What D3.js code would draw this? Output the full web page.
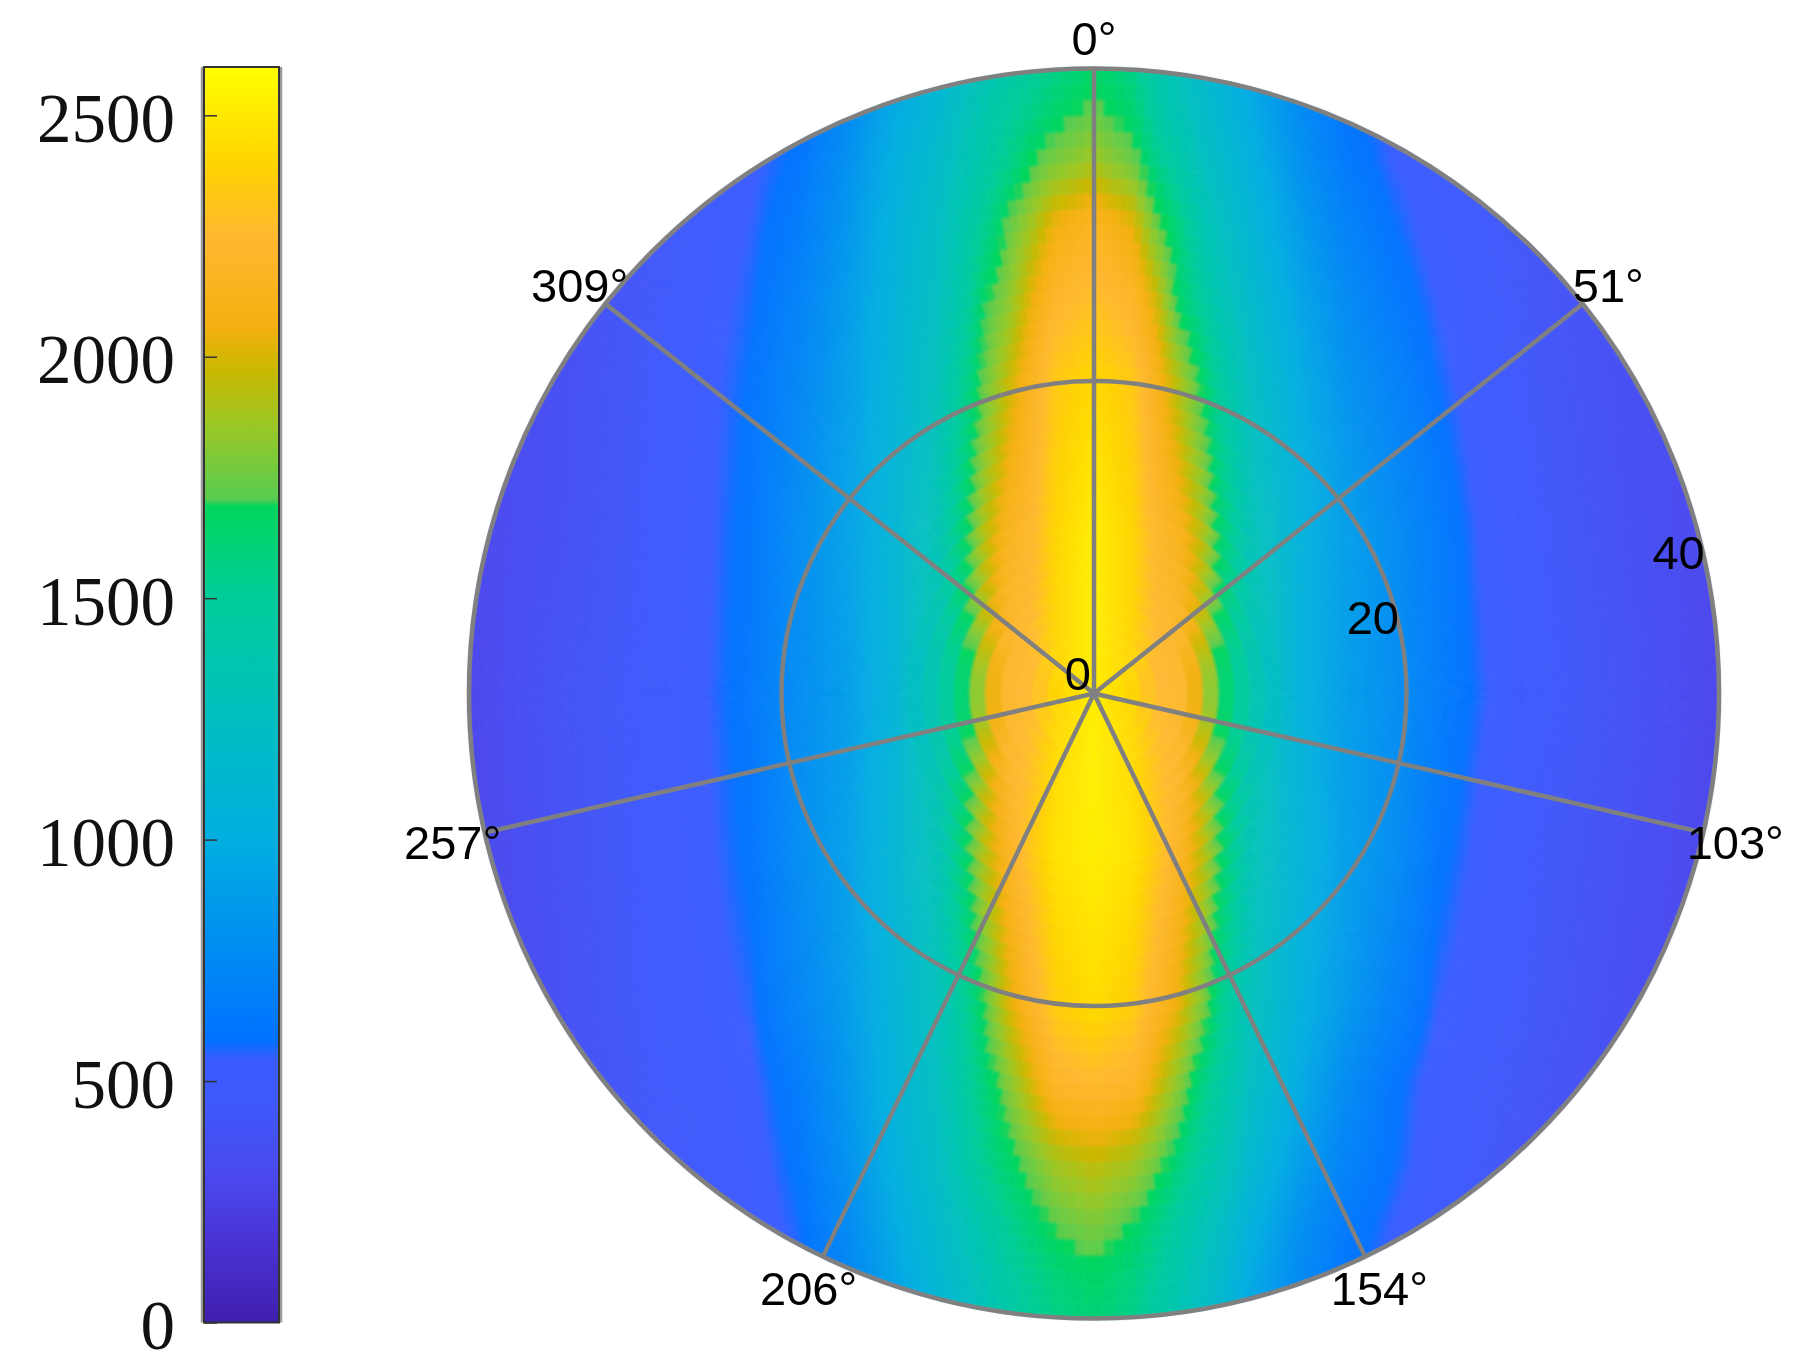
<!DOCTYPE html>
<meta charset="utf-8">
<script src="https://d3js.org/d3.v7.min.js"></script>
<style>
body { margin: 0; background: #fff; }
#my_dataviz { position: relative; width: 1795px; height: 1364px; }
#my_dataviz canvas, #my_dataviz svg { position: absolute; left: 0; top: 0; display: block; }
text { font-family: "Liberation Sans", Arial, sans-serif; fill: #000; }
.cbar text { font-family: "Liberation Serif", "Times New Roman", serif; font-size: 69px; fill: #111; }
</style>
<div id="my_dataviz"></div>
<script>
// values, one row per y position, one column per x position
const gridX = [-40,-34,-29,-25,-22,-19,-16,-13,-10,-8,-7,-5.5,-4,-2.5,0,2.5,4,5.5,7,8,10,13,16,19,22,25,29,34,40];
const gridY = [40,37,34,30,25,20,10,0,-10,-20,-25,-30,-34,-37,-40];
const gridValues = [
  [260,320,380,440,500,570,700,900,1080,1250,1330,1420,1490,1560,1660,1560,1400,1280,1150,1080,950,740,590,530,480,430,370,310,250],
  [265,325,385,445,505,575,740,960,1130,1300,1380,1480,1560,1650,1740,1640,1450,1330,1200,1130,990,780,610,540,490,440,380,320,255],
  [270,330,400,470,530,600,780,1000,1180,1340,1420,1540,1690,1780,1880,1750,1560,1400,1260,1190,1040,820,640,550,500,450,390,330,260],
  [275,340,420,490,550,640,820,1030,1220,1420,1520,1720,1880,2060,2170,2030,1760,1580,1350,1260,1100,880,700,590,510,460,400,340,270],
  [280,350,430,510,570,690,860,1050,1250,1480,1680,1820,2040,2220,2300,2210,2000,1650,1480,1350,1170,950,770,640,545,480,410,350,275],
  [285,360,440,520,590,720,880,1060,1290,1570,1740,1960,2150,2340,2420,2340,2130,1900,1650,1480,1240,1000,820,700,580,490,420,360,280],
  [290,370,450,530,610,770,900,1080,1320,1690,1930,2150,2240,2400,2530,2400,2230,2130,1920,1660,1320,1060,900,780,650,530,450,370,285],
  [285,400,460,540,620,770,880,1060,1400,1700,1950,2230,2260,2400,2530,2400,2260,2240,1950,1700,1400,1060,890,790,660,555,470,390,285],
  [280,380,460,530,600,770,890,1080,1320,1700,1940,2170,2340,2470,2530,2470,2340,2170,1940,1700,1320,1080,900,790,610,520,440,370,275],
  [275,370,450,510,560,710,860,1060,1290,1540,1710,2000,2190,2360,2440,2360,2190,2020,1780,1560,1290,1040,860,690,550,490,420,350,270],
  [270,360,440,490,530,640,830,1040,1260,1490,1600,1800,2000,2200,2250,2200,2000,1800,1560,1460,1230,990,770,610,510,460,400,340,265],
  [265,350,420,470,510,600,790,1010,1220,1430,1530,1650,1760,1880,1960,1880,1760,1590,1440,1350,1140,900,700,590,500,440,380,320,260],
  [260,340,410,460,500,570,740,960,1170,1320,1410,1520,1620,1720,1790,1680,1560,1440,1320,1240,1040,810,640,550,480,430,370,310,255],
  [255,330,400,450,490,550,710,920,1130,1270,1350,1460,1540,1610,1670,1590,1490,1380,1260,1180,980,770,610,530,470,420,360,300,250],
  [250,320,390,440,480,530,680,880,1080,1220,1300,1410,1500,1560,1620,1550,1440,1330,1210,1130,930,730,590,520,460,410,350,290,245]
];

// colormap, taken from the colorbar
const colorStops = [0,150,300,450,545,585,800,1000,1250,1500,1690,1705,1850,1980,2060,2250,2400,2500,2600];
const colorValues = ["#3f1fae","#4a30d0","#4a48ee","#3f58fb","#3a5cff","#0072ff","#0090f0","#00aee0","#00bfc0","#00cc9a","#00d65c","#58cc50","#98c828","#ccb800","#f4b010","#ffb830","#ffd400","#ffe800","#ffff00"];

const cbarTicks = [0,500,1000,1500,2000,2500];
const radialTicks = [20,40];
const radialLabels = [0,20,40];
const radialLabelAngles = [0,75.8,76.9];
const angleTicks = [0,51.43,102.86,154.29,205.71,257.14,308.57];
const angleLabels = ["0°","51°","103°","154°","206°","257°","309°"];

const gridColor = "#808080";
const W = 1795, H = 1364;
const cx = 1094, cy = 693.5;

const color = d3.scaleLinear().domain(colorStops).range(colorValues).clamp(true);
const r = d3.scaleLinear().domain([0,40]).range([0,625]);

// bilinear lookup in the table above
const colPos = d3.scaleLinear().domain(gridX).range(d3.range(gridX.length)).clamp(true);
const rowPos = d3.scaleLinear().domain(gridY).range(d3.range(gridY.length)).clamp(true);
function valueAt(x, y) {
    const c = colPos(x), w = rowPos(y);
    const c0 = Math.min(Math.floor(c), gridX.length-2), w0 = Math.min(Math.floor(w), gridY.length-2);
    const fc = c-c0, fw = w-w0;
    return (gridValues[w0][c0]*(1-fc)+gridValues[w0][c0+1]*fc)*(1-fw)
         + (gridValues[w0+1][c0]*(1-fc)+gridValues[w0+1][c0+1]*fc)*fw;
}
const valueAtPolar = (rad, deg) => valueAt(rad*Math.sin(deg*Math.PI/180), rad*Math.cos(deg*Math.PI/180));

// polar cells: 1 unit rings, 1 degree sectors; the low outer part is shaded finer
const cells = [];
d3.range(0,40).forEach(i => {
    d3.range(0,360).forEach(a => {
        const v = valueAtPolar(i+0.5, a+0.5);
        if (v < 1300 && i >= 12) {
            d3.range(3).forEach(m => d3.range(3).forEach(n => {
                const i0 = i+m/3, a0 = a+n/3;
                cells.push({i0, i1: i0+1/3, a0, a1: a0+1/3, v: valueAtPolar(i0+1/6, a0+1/6)});
            }));
        } else {
            cells.push({i0: i, i1: i+1, a0: a, a1: a+1, v});
        }
    });
});

const canvas = d3.select("#my_dataviz").append("canvas")
    .attr("width", W)
    .attr("height", H)
    .style("filter", "blur(1.5px)");
const ctx = canvas.node().getContext("2d");
ctx.translate(cx, cy);

const arc = d3.arc()
    .innerRadius(d => r(d.i0))
    .outerRadius(d => r(d.i1))
    .startAngle(d => d.a0*Math.PI/180)
    .endAngle(d => d.a1*Math.PI/180)
    .context(ctx);

ctx.lineWidth = 0.6;
cells.forEach(d => {
    ctx.beginPath();
    arc(d);
    ctx.fillStyle = ctx.strokeStyle = color(d.v);
    ctx.fill();
    ctx.stroke();
});

const svg = d3.select("#my_dataviz").append("svg")
    .attr("width", W)
    .attr("height", H);

const polar = svg.append("g").attr("transform",`translate(${cx},${cy})`);

// rings
polar.selectAll("circle")
  .data(radialTicks)
  .join("circle")
    .attr("r", d => r(d))
    .attr("fill", "none")
    .attr("stroke", gridColor)
    .attr("stroke-width", 4.5);

// spokes
const spoke = d3.lineRadial();
polar.selectAll(".spoke")
  .data(angleTicks)
  .join("path")
    .attr("class", "spoke")
    .attr("d", d => spoke([[d*Math.PI/180, 0],[d*Math.PI/180, r(40)]]))
    .attr("stroke", gridColor)
    .attr("stroke-width", 4.5)
    .attr("fill", "none");

// angle labels
polar.selectAll(".angle")
  .data(angleTicks)
  .join("text")
    .attr("class", "angle")
    .attr("x", d => r(42.1)*Math.sin(d*Math.PI/180))
    .attr("y", d => -r(42.1)*Math.cos(d*Math.PI/180))
    .attr("dy", "0.4em")
    .attr("text-anchor", "middle")
    .style("font-size", "47px")
    .text((d,i) => angleLabels[i]);

// radial labels
polar.selectAll(".rlabel")
  .data(radialLabels)
  .join("text")
    .attr("class", "rlabel")
    .attr("x", (d,i) => r(d)*Math.sin(radialLabelAngles[i]*Math.PI/180)+(d ? 2 : -3))
    .attr("y", (d,i) => -r(d)*Math.cos(radialLabelAngles[i]*Math.PI/180))
    .attr("dy", d => d ? "0.36em" : "-0.08em")
    .attr("text-anchor", "end")
    .style("font-size", "47px")
    .text(d => d);

// colorbar
const barX = 204, barW = 75;
const cy0 = d3.scaleLinear().domain([0,2600]).range([1322.5,67]);
const bar = svg.append("g").attr("class", "cbar");
const grad = svg.append("defs").append("linearGradient")
    .attr("id", "cbar-grad")
    .attr("x1", 0).attr("x2", 0)
    .attr("y1", 1).attr("y2", 0);
grad.selectAll("stop")
  .data(colorStops)
  .join("stop")
    .attr("offset", d => d/2600)
    .attr("stop-color", d => color(d));
bar.append("rect")
    .attr("x", barX)
    .attr("y", cy0(2600))
    .attr("width", barW)
    .attr("height", cy0(0)-cy0(2600))
    .attr("fill", "url(#cbar-grad)");
bar.selectAll(".side")
  .data([barX-2, barX+barW+2])
  .join("line")
    .attr("class", "side")
    .attr("x1", d => d)
    .attr("x2", d => d)
    .attr("y1", cy0(2600))
    .attr("y2", cy0(0))
    .attr("stroke", "#9a9a9a")
    .attr("stroke-width", 2.5);
bar.append("rect")
    .attr("x", barX)
    .attr("y", cy0(2600))
    .attr("width", barW)
    .attr("height", cy0(0)-cy0(2600))
    .attr("fill", "none")
    .attr("stroke", "#333")
    .attr("stroke-width", 2);

const barAxis = bar.append("g")
    .attr("transform", `translate(${barX},0)`)
    .call(d3.axisLeft(cy0).tickValues(cbarTicks).tickFormat(d3.format("d")).tickSize(-13).tickPadding(29));
barAxis.select(".domain").remove();
barAxis.selectAll("line").attr("stroke", "#333").attr("stroke-width", 1.5);
barAxis.selectAll("text").attr("dy", "0.38em");
</script>
